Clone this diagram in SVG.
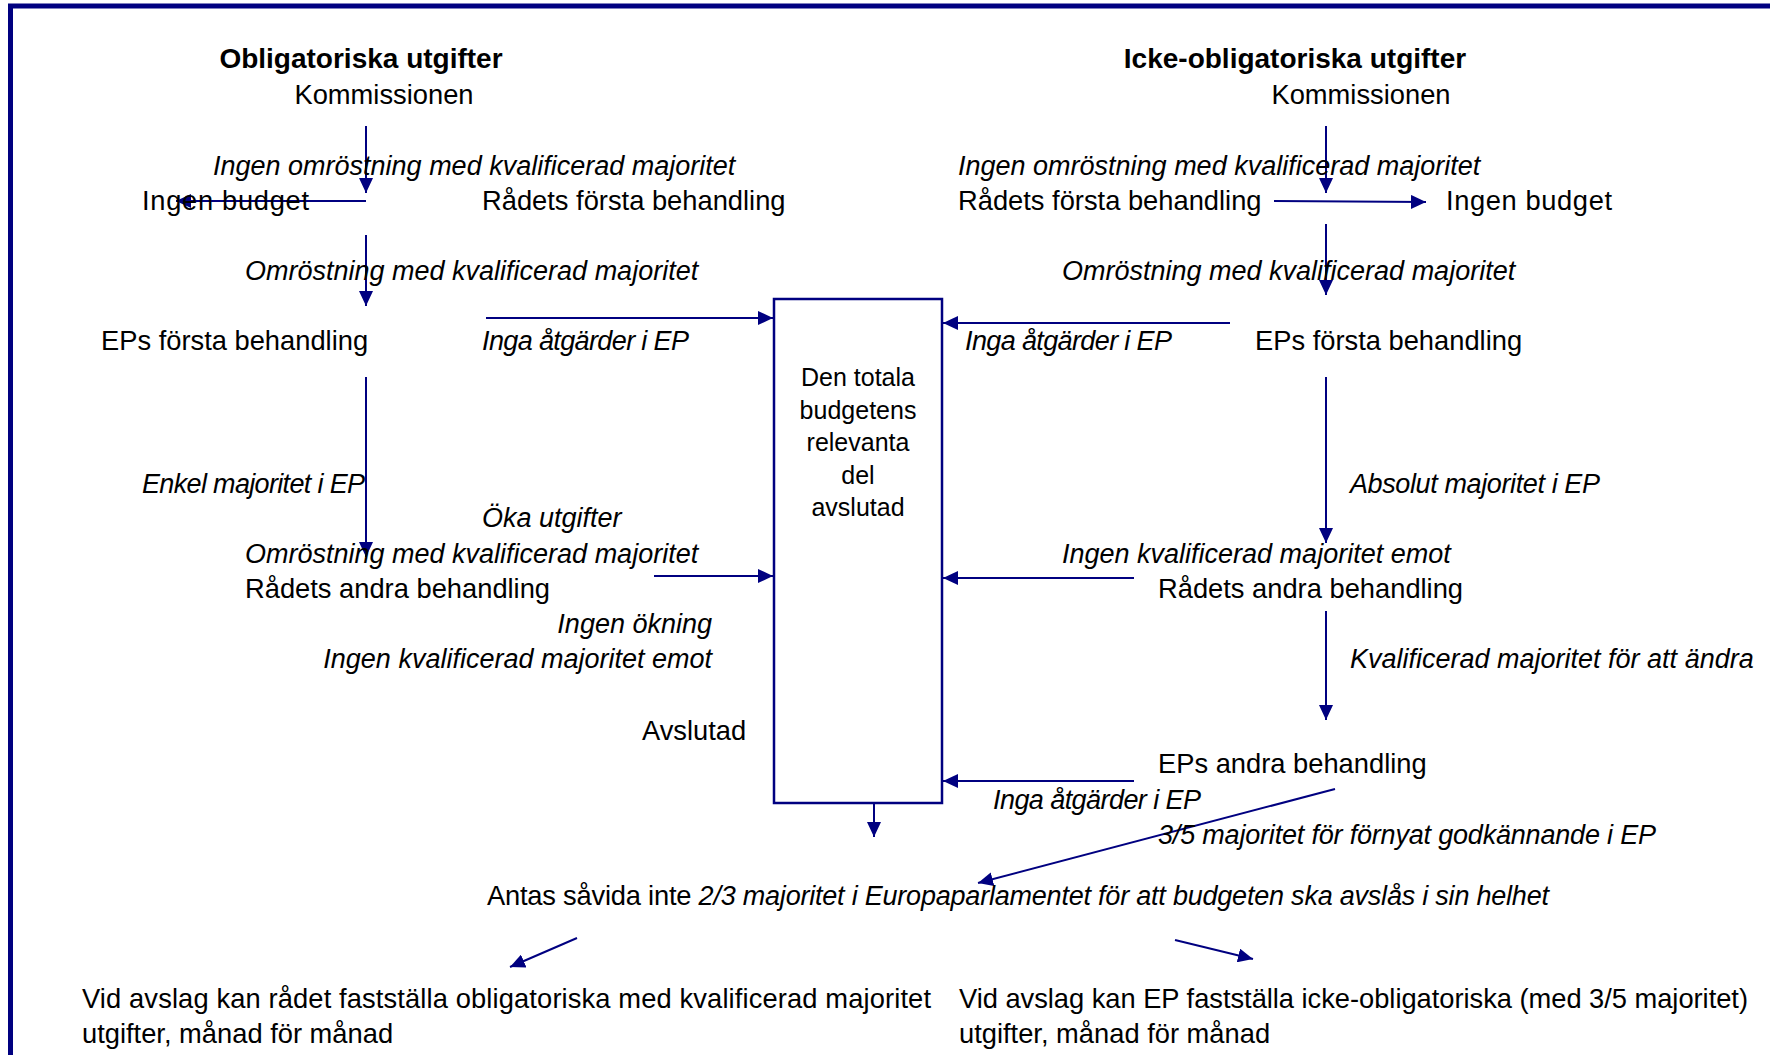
<svg xmlns="http://www.w3.org/2000/svg" width="1770" height="1055" viewBox="0 0 1770 1055">
<style>
text{font-family:"Liberation Sans",Arial,sans-serif;font-size:27.3px;fill:#000}
.b{font-weight:bold;font-size:28px}
.i{font-style:italic;font-size:27px}
.m{text-anchor:middle}
.e{text-anchor:end}
.box{font-size:25px}
.c{stroke:#000080;stroke-width:2;fill:none;marker-end:url(#ah)}
</style>
<defs>
<marker id="ah" markerUnits="userSpaceOnUse" markerWidth="16" markerHeight="14" refX="15" refY="7" orient="auto">
<path d="M0,0 L15,7 L0,14 z" fill="#000080"/>
</marker>
</defs>
<rect width="1770" height="1055" fill="#fff"/>
<rect x="10.5" y="6" width="1800" height="1100" fill="none" stroke="#000080" stroke-width="5"/>

<g id="connectors">
<line class="c" x1="366" y1="126" x2="366" y2="193"/>
<line class="c" x1="366" y1="201" x2="176" y2="201"/>
<line class="c" x1="366" y1="235" x2="366" y2="306"/>
<line class="c" x1="486" y1="318" x2="773" y2="318"/>
<line class="c" x1="366" y1="377" x2="366" y2="557"/>
<line class="c" x1="654" y1="576" x2="773" y2="576"/>
<line class="c" x1="1326" y1="126" x2="1326" y2="193"/>
<line class="c" x1="1274" y1="201" x2="1426" y2="202"/>
<line class="c" x1="1326" y1="224" x2="1326" y2="295"/>
<line class="c" x1="1230" y1="323" x2="943" y2="323"/>
<line class="c" x1="1326" y1="377" x2="1326" y2="543"/>
<line class="c" x1="1134" y1="578" x2="943" y2="578"/>
<line class="c" x1="1326" y1="611" x2="1326" y2="720"/>
<line class="c" x1="1134" y1="781" x2="943" y2="781"/>
<line class="c" x1="1335" y1="789" x2="978" y2="883"/>
<line class="c" x1="874" y1="803" x2="874" y2="837"/>
<line class="c" x1="577" y1="938" x2="510" y2="967"/>
<line class="c" x1="1175" y1="940" x2="1253" y2="959"/>
</g>

<g id="box">
<rect x="774" y="299" width="168" height="504" fill="none" stroke="#000080" stroke-width="2.5"/>
<text class="box m" x="858" y="386">Den totala</text>
<text class="box m" x="858" y="418.5">budgetens</text>
<text class="box m" x="858" y="451">relevanta</text>
<text class="box m" x="858" y="483.5">del</text>
<text class="box m" x="858" y="516">avslutad</text>
</g>

<g id="left">
<text class="b m" x="361" y="68">Obligatoriska utgifter</text>
<text class="m" x="384" y="104">Kommissionen</text>
<text class="i" x="213" y="175">Ingen omröstning med kvalificerad majoritet</text>
<text x="142" y="210" textLength="167">Ingen budget</text>
<text x="482" y="210">Rådets första behandling</text>
<text class="i" x="245" y="280">Omröstning med kvalificerad majoritet</text>
<text x="101" y="350">EPs första behandling</text>
<text class="i" x="482" y="350" textLength="207">Inga åtgärder i EP</text>
<text class="i" x="142" y="493" textLength="223">Enkel majoritet i EP</text>
<text class="i" x="482" y="527">Öka utgifter</text>
<text class="i" x="245" y="563">Omröstning med kvalificerad majoritet</text>
<text x="245" y="598">Rådets andra behandling</text>
<text class="i e" x="712" y="633">Ingen ökning</text>
<text class="i e" x="712" y="668">Ingen kvalificerad majoritet emot</text>
<text x="642" y="740">Avslutad</text>
</g>

<g id="right">
<text class="b m" x="1295" y="68">Icke-obligatoriska utgifter</text>
<text class="m" x="1361" y="104">Kommissionen</text>
<text class="i" x="958" y="175">Ingen omröstning med kvalificerad majoritet</text>
<text x="958" y="210">Rådets första behandling</text>
<text x="1446" y="210" textLength="166">Ingen budget</text>
<text class="i" x="1062" y="280">Omröstning med kvalificerad majoritet</text>
<text class="i" x="965" y="350" textLength="207">Inga åtgärder i EP</text>
<text x="1255" y="350">EPs första behandling</text>
<text class="i" x="1350" y="493" textLength="250">Absolut majoritet i EP</text>
<text class="i" x="1062" y="563">Ingen kvalificerad majoritet emot</text>
<text x="1158" y="598">Rådets andra behandling</text>
<text class="i" x="1350" y="668">Kvalificerad majoritet för att ändra</text>
<text x="1158" y="773">EPs andra behandling</text>
<text class="i" x="993" y="809" textLength="208">Inga åtgärder i EP</text>
<text class="i" x="1158" y="844" textLength="498">3/5 majoritet för förnyat godkännande i EP</text>
</g>

<g id="bottom">
<text x="487" y="905" textLength="1062">Antas såvida inte <tspan class="i">2/3 majoritet i Europaparlamentet för att budgeten ska avslås i sin helhet</tspan></text>
<text x="82" y="1008" textLength="849">Vid avslag kan rådet fastställa obligatoriska med kvalificerad majoritet</text>
<text x="82" y="1043">utgifter, månad för månad</text>
<text x="959" y="1008" textLength="789">Vid avslag kan EP fastställa icke-obligatoriska (med 3/5 majoritet)</text>
<text x="959" y="1043">utgifter, månad för månad</text>
</g>
</svg>
